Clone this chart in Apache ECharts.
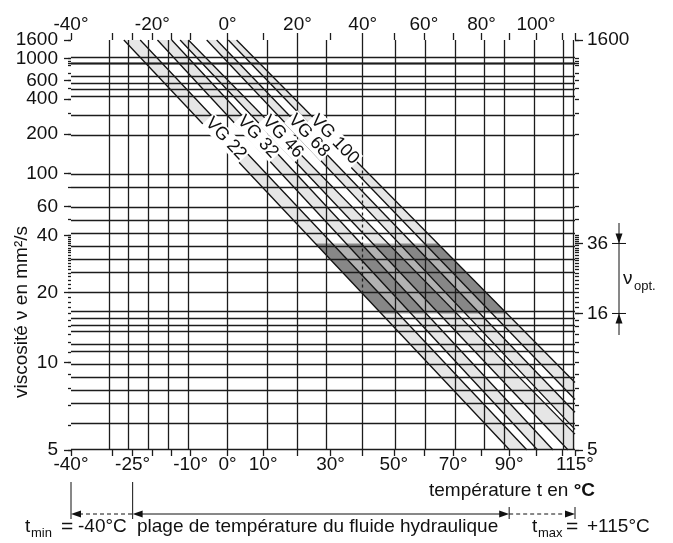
<!DOCTYPE html>
<html>
<head>
<meta charset="utf-8">
<script src="https://cdn.jsdelivr.net/npm/echarts@6/dist/echarts.min.js"></script>
<style>
  html, body { margin: 0; padding: 0; background: #fff; }
  #chart { width: 673px; height: 543px; }
</style>
</head>
<body>
<div id="chart"></div>
<script>
// Temperatures in °C, kinematic viscosities in mm²/s
const bottomTempLabels = [-40, -25, -10, 0, 10, 30, 50, 70, 90, 115];
const topTempLabels = [-40, -20, 0, 20, 40, 60, 80, 100];
const tempGridLines = [-40, -30, -25, -20, -15, -10, 0, 10, 20, 30, 40, 50, 60, 70, 80, 90, 100, 110, 115];
const leftViscLabels = [1600, 1000, 600, 400, 200, 100, 60, 40, 20, 10, 5];
const rightViscLabels = [1600, 36, 16, 5];
const viscGridLines = [1600, 1000, 950, 900, 850, 700, 600, 500, 400, 300, 200, 100, 80, 60, 50, 40, 36, 30, 25, 20, 16, 15, 14, 13, 12, 11, 10, 9, 8, 7, 6, 5];
const viscFineTicks = [17, 18, 19, 21, 22, 23, 24, 26, 27, 28, 29, 31, 32, 33, 34, 35, 37, 38, 39];
const optimumRange = [16, 36];
const tempRange = [-40, 115];
const fluidRange = [-25, 90];
// reference temperature of the grades, dashed across the bands
const refTemp = 40;
const refViscSpan = [19.8, 110];

// ISO viscosity grades: each band edge runs from [°C, mm²/s] to [°C, mm²/s]
const grades = ['VG 22', 'VG 32', 'VG 46', 'VG 68', 'VG 100'];
const lowerEdges = [
  [[-27.2, 1600], [90.2, 5]],
  [[-18.7, 1600], [100.6, 5]],
  [[-12.8, 1600], [112.3, 5]],
  [[-5.7, 1600], [115, 5.8]],
  [[0.2, 1600], [115, 7.3]]
];
const upperEdges = [
  [[-23.1, 1600], [96.6, 5]],
  [[-15.0, 1600], [106.5, 5]],
  [[-10.6, 1600], [115, 5.6]],
  [[-3.0, 1600], [115, 6.6]],
  [[2.5, 1600], [115, 8.4]]
];
const gradeLabelPoints = [[-0.5, 183], [8.5, 189], [15.7, 189], [23.4, 193], [31.3, 180]];

// Walther-type scales: log of absolute temperature, log-log of viscosity
const tx = t => Math.log(t + 273.15);
const ty = v => Math.log10(Math.log10(v + 0.7));
const fromTx = x => Math.exp(x) - 273.15;
const fromTy = y => Math.pow(10, Math.pow(10, y)) - 0.7;

const FONT = '"Liberation Sans", Arial, Helvetica, sans-serif';
const INK = '#111';
const GRID_INK = '#1c1c1c';
const LABEL = { fontSize: 19, lineHeight: 14, color: INK, fontFamily: FONT, showMinLabel: true, showMaxLabel: true, hideOverlap: false };

const chart = echarts.init(document.getElementById('chart'));

function tempAxis(position, labels, tickLen, margin) {
  return {
    type: 'value', position, min: tx(tempRange[0]), max: tx(tempRange[1]),
    axisLine: { show: false, onZero: false }, splitLine: { show: false },
    axisTick: { show: true, customValues: tempGridLines.map(tx), length: tickLen, lineStyle: { color: GRID_INK, width: 1.3 } },
    axisLabel: Object.assign({ customValues: labels.map(tx), margin,
      formatter: v => Math.round(fromTx(v)) + '°' }, LABEL)
  };
}

function viscAxis(position, labels, ticks, tickLen, margin) {
  return {
    type: 'value', position, offset: 0, min: ty(5), max: ty(1600),
    axisLine: { show: false, onZero: false }, splitLine: { show: false },
    axisTick: { show: ticks.length > 0, customValues: ticks.map(ty), length: tickLen, lineStyle: { color: GRID_INK, width: 1.3 } },
    axisLabel: Object.assign({ show: labels.length > 0, customValues: labels.map(ty), margin: margin || 12,
      formatter: v => String(Math.round(fromTy(v))) }, LABEL)
  };
}

const edgeValue = p => [tx(p[0]), ty(p[1])];

function extendEdge(edge, api) {
  const a = api.coord(edgeValue(edge[0]));
  const b = api.coord(edgeValue(edge[1]));
  return [a, [b[0] + (b[0] - a[0]) * 2, b[1] + (b[1] - a[1]) * 2]];
}

function bandPolygon(lo, hi) {
  return [lo[0], lo[1], hi[1], hi[0]];
}

function renderFill(params, api) {
  const idx = api.value(2);
  const cs = params.coordSys;
  const plotClip = { type: 'rect', shape: { x: cs.x, y: cs.y, width: cs.width, height: cs.height } };
  const yHi = api.coord([cs.x, ty(optimumRange[1])])[1];
  const yLo = api.coord([cs.x, ty(optimumRange[0])])[1];
  const stripClip = { type: 'rect', shape: { x: cs.x, y: yHi, width: cs.width, height: yLo - yHi } };
  if (idx < 0) {
    const lo = extendEdge(lowerEdges[0], api);
    const hi = extendEdge(upperEdges[upperEdges.length - 1], api);
    return { type: 'polygon', shape: { points: bandPolygon(lo, hi) }, style: { fill: '#b2b2b2' }, clipPath: stripClip };
  }
  const lo = extendEdge(lowerEdges[idx], api);
  const hi = extendEdge(upperEdges[idx], api);
  const pts = bandPolygon(lo, hi);
  return {
    type: 'group',
    children: [
      { type: 'polygon', shape: { points: pts }, style: { fill: '#e6e6e6' }, clipPath: plotClip },
      { type: 'polygon', shape: { points: pts }, style: { fill: '#878787' }, clipPath: stripClip }
    ]
  };
}

function renderGradeLabel(params, api) {
  const idx = api.value(2);
  const p = api.coord(edgeValue(gradeLabelPoints[idx]));
  const a = api.coord(edgeValue(lowerEdges[idx][0]));
  const b = api.coord(edgeValue(lowerEdges[idx][1]));
  const angle = Math.atan2(b[1] - a[1], b[0] - a[0]);
  return {
    type: 'text', x: p[0], y: p[1], rotation: -angle,
    style: { text: grades[idx], fontSize: 18, fontFamily: FONT, fill: INK, align: 'center', verticalAlign: 'middle',
      backgroundColor: '#fff', padding: [0, 1] }
  };
}

const edgeSeries = [];
lowerEdges.concat(upperEdges).forEach((edge, i) => {
  edgeSeries.push({
    type: 'line', name: 'edge' + i, data: edge.map(edgeValue), showSymbol: false, clip: true, silent: true,
    lineStyle: { color: INK, width: 1.3 }, z: 4, animation: false
  });
});

const anchor = [[tx(tempRange[0]), ty(5), -1]].concat(grades.map((g, i) => [tx(tempRange[0]), ty(5), i]));

const gridLineStyle = { color: GRID_INK, width: 1.3, type: 'solid' };
const refLine = (v0, v1, type) => [
  { coord: [tx(refTemp), ty(v0)], lineStyle: Object.assign({}, gridLineStyle, { type }) },
  { coord: [tx(refTemp), ty(v1)] }
];

// closely stacked left labels are spread over two axes so none gets dropped
const leftLabelsA = leftViscLabels.filter((v, i) => i % 2 === 0);
const leftLabelsB = leftViscLabels.filter((v, i) => i % 2 === 1);

chart.setOption({
  animation: false,
  grid: { left: 71, right: 98, top: 40, bottom: 93 },
  xAxis: [tempAxis('bottom', bottomTempLabels, 6, 8), tempAxis('top', topTempLabels, 7, 8)],
  yAxis: [
    viscAxis('left', leftLabelsA, leftViscLabels, 7, 13),
    viscAxis('right', rightViscLabels, rightViscLabels, 8, 12),
    viscAxis('left', [], viscGridLines.concat(viscFineTicks), 3),
    viscAxis('right', [], viscGridLines.concat(viscFineTicks), 4),
    viscAxis('left', leftLabelsB, [], 0, 13)
  ],
  series: [
    { type: 'custom', name: 'bands', renderItem: renderFill, data: anchor, z: 1, silent: true },
    {
      type: 'line', name: 'grid', data: [], z: 2, silent: true,
      markLine: {
        silent: true, symbol: ['none', 'none'], label: { show: false }, animation: false,
        lineStyle: gridLineStyle,
        data: tempGridLines.filter(t => t !== refTemp).map(t => ({ xAxis: tx(t) }))
          .concat(viscGridLines.map(v => ({ yAxis: ty(v) })))
          .concat([
            refLine(5, refViscSpan[0], 'solid'),
            refLine(refViscSpan[0], refViscSpan[1], [3, 3]),
            refLine(refViscSpan[1], 1600, 'solid')
          ])
      }
    },
    ...edgeSeries,
    { type: 'custom', name: 'grades', renderItem: renderGradeLabel, data: anchor.slice(1), z: 6, silent: true }
  ]
});

// Annotations around the plot, placed from the axis scales
const px = (t, v) => chart.convertToPixel({ xAxisIndex: 0, yAxisIndex: 0 }, [tx(t), ty(v)]);
const xMin = px(tempRange[0], 5)[0], xMax = px(tempRange[1], 5)[0];
const xF0 = px(fluidRange[0], 5)[0], xF1 = px(fluidRange[1], 5)[0];
const yOptHi = px(0, optimumRange[1])[1], yOptLo = px(0, optimumRange[0])[1];

const seg = (x1, y1, x2, y2, extra) => ({ type: 'line', silent: true, shape: { x1, y1, x2, y2 },
  style: Object.assign({ stroke: INK, lineWidth: 1 }, extra || {}) });
const head = (x, y, dir) => {
  // dir: 1 right, -1 left, 2 down, -2 up
  const L = 10, W = 3.5;
  let pts;
  if (dir === 1) pts = [[x, y], [x - L, y - W], [x - L, y + W]];
  else if (dir === -1) pts = [[x, y], [x + L, y - W], [x + L, y + W]];
  else if (dir === 2) pts = [[x, y], [x - W, y - L], [x + W, y - L]];
  else pts = [[x, y], [x - W, y + L], [x + W, y + L]];
  return { type: 'polygon', silent: true, shape: { points: pts }, style: { fill: INK } };
};
const text = (x, y, s, size, align, extra) => ({ type: 'text', x, y, silent: true,
  style: Object.assign({ text: s, fontSize: size, fontFamily: FONT, fill: INK, align: align || 'left', verticalAlign: 'middle' }, extra || {}) });

const arrowY = 514, textY = 527;
const dash = { lineDash: [4, 3] };
const xOpt = 619;

chart.setOption({
  graphic: [
    // fluid temperature range
    seg(xMin, 482, xMin, 519), seg(xF0, 482, xF0, 519), seg(xF1, 507, xF1, 519), seg(xMax, 507, xMax, 519),
    seg(xMin + 8, arrowY, xF0, arrowY, dash), head(xMin, arrowY, -1),
    seg(xF0 + 8, arrowY, xF1 - 8, arrowY), head(xF0, arrowY, -1), head(xF1, arrowY, 1),
    seg(xF1, arrowY, xMax - 8, arrowY, dash), head(xMax, arrowY, 1),
    text(595, 491, '', 19, 'right', { text: '{a|température t en }{b|°C}',
      rich: { a: { fontSize: 19, fontFamily: FONT, fill: INK }, b: { fontSize: 19, fontFamily: FONT, fill: INK, fontWeight: 'bold' } } }),
    text(25, textY, 't', 19), text(31, textY + 6, 'min', 13), text(61, textY, '=', 21), text(78, textY, '-40°C', 19),
    text(137, textY, 'plage de température du fluide hydraulique', 19),
    text(532, textY, 't', 19), text(538, textY + 6, 'max', 13), text(566, textY, '=', 21), text(587, textY, '+115°C', 19),
    // optimum viscosity range
    seg(xOpt, 223, xOpt, 335), seg(xOpt - 7, yOptHi, xOpt + 7, yOptHi), seg(xOpt - 7, yOptLo, xOpt + 7, yOptLo),
    head(xOpt, yOptHi, 2), head(xOpt, yOptLo, -2),
    text(623, 279, 'ν', 19), text(634, 286, 'opt.', 13),
    // axis title
    { type: 'text', x: 22, y: 312, rotation: Math.PI / 2, silent: true,
      style: { text: 'viscosité ν en mm²/s', fontSize: 19, fontFamily: FONT, fill: INK, align: 'center', verticalAlign: 'middle' } }
  ]
});
</script>
</body>
</html>
